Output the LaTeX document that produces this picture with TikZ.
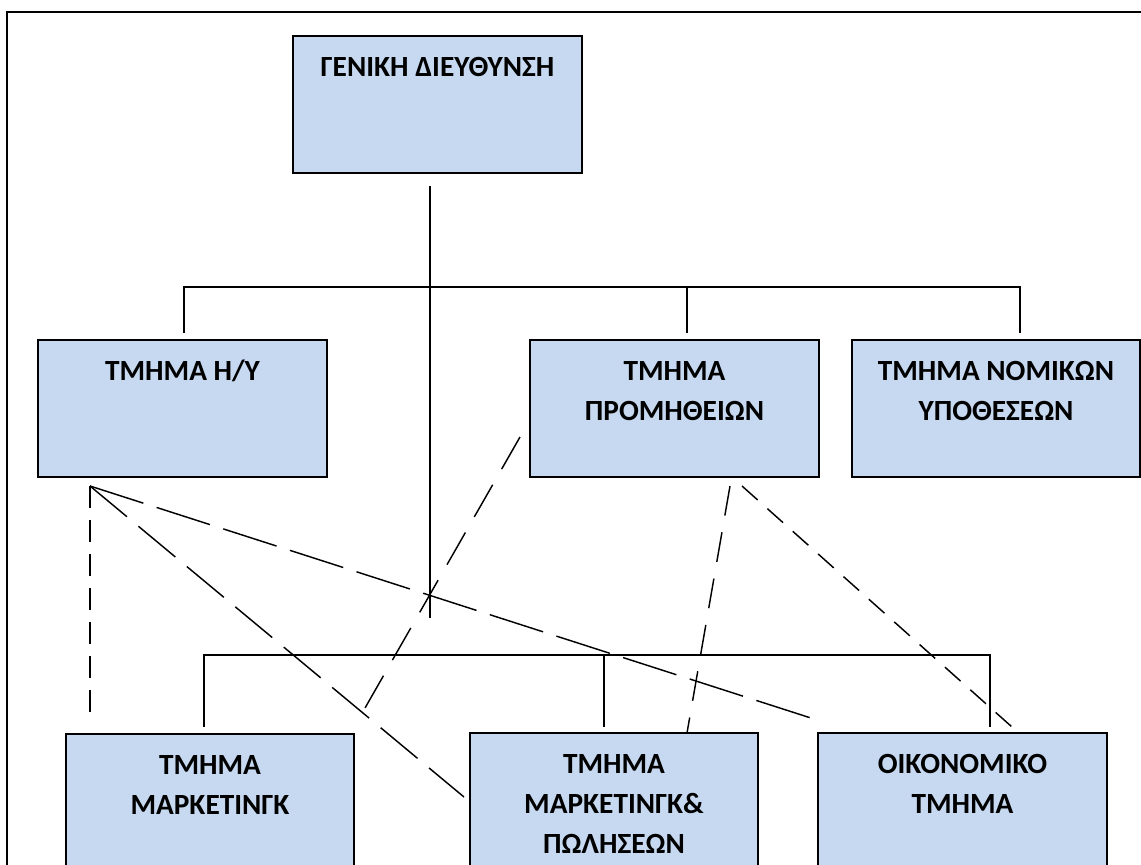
\documentclass[tikz,border=0pt]{standalone}
\usepackage{fontspec}
\setmainfont{Carlito}
\definecolor{boxfill}{RGB}{198,217,240}
\begin{document}
\begin{tikzpicture}[x=1pt,y=-1pt,
  deptbox/.style={draw=black, line width=1.5pt, fill=boxfill, inner sep=0pt,
    outer sep=0pt, anchor=north west, minimum width=289pt, minimum height=137pt},
  depttext/.style={anchor=north, inner sep=0pt, align=center,
    font=\fontsize{29.3}{40}\selectfont\bfseries},
  link/.style={draw=black, line width=1.45pt},
  dashvert/.style={link, dash pattern=on 22pt off 12pt},
  dashlong/.style={link, dash pattern=on 56pt off 14pt},
  dashdiag/.style={link, dash pattern=on 48pt off 15pt},
  dashmid/.style={link, dash pattern=on 37pt off 18pt},
  dashsteep/.style={link, dash pattern=on 30pt off 17pt},
  dashshort/.style={link, dash pattern=on 21pt off 13pt}]

\useasboundingbox (0,0) rectangle (1141,865);
\clip (0,0) rectangle (1141,865);
\fill[white] (0,0) rectangle (1141,865);

% outer frame
\draw[line width=1.7pt] (7,12) rectangle (1180,920);

% departments
\node[deptbox] (gen)   at (293,36)  {};
\node[deptbox] (hy)    at (38,340)  {};
\node[deptbox] (prom)  at (530,340) {};
\node[deptbox, minimum width=288pt] (nom) at (852,340) {};
\node[deptbox, minimum width=288pt] (mark) at (66,734) {};
\node[deptbox, minimum width=288pt] (markp) at (470,733) {};
\node[deptbox] (oik)   at (818,733) {};

% labels
\newcommand{\firstline}{\rule{0pt}{24pt}}
\node[depttext] (gen-t)   at ([yshift=-16pt]gen.north)   {\firstline ΓΕΝΙΚΗ ΔΙΕΥΘΥΝΣΗ};
\node[depttext] (hy-t)    at ([yshift=-16pt]hy.north)    {\firstline ΤΜΗΜΑ Η/Υ};
\node[depttext] (prom-t)  at ([yshift=-16pt]prom.north)  {\firstline ΤΜΗΜΑ\\ΠΡΟΜΗΘΕΙΩΝ};
\node[depttext] (nom-t)   at ([yshift=-16pt]nom.north)   {\firstline ΤΜΗΜΑ ΝΟΜΙΚΩΝ\\ΥΠΟΘΕΣΕΩΝ};
\node[depttext] (mark-t)  at ([yshift=-16pt]mark.north)  {\firstline ΤΜΗΜΑ\\ΜΑΡΚΕΤΙΝΓΚ};
\node[depttext] (markp-t) at ([yshift=-16pt]markp.north) {\firstline ΤΜΗΜΑ\\ΜΑΡΚΕΤΙΝΓΚ\&\\ΠΩΛΗΣΕΩΝ};
\node[depttext] (oik-t)   at ([yshift=-16pt]oik.north)   {\firstline ΟΙΚΟΝΟΜΙΚΟ\\ΤΜΗΜΑ};

% hierarchy lines
\coordinate (trunkTop) at (430,186);
\coordinate (trunkBot) at (430,618);
\coordinate (busA1) at (184,287);
\coordinate (busA2) at (687,287);
\coordinate (busA3) at (1020,287);
\coordinate (busB1) at (204,655);
\coordinate (busB2) at (604,655);
\coordinate (busB3) at (990,655);

\draw[link] (trunkTop) -- (trunkBot);
\draw[link] (busA1 |- hy.north) ++(0,-7) -- (busA1) -- (busA3) -- ++(0,46);
\draw[link] (busA2) -- ++(0,46);
\draw[link] (busB1) ++(0,72) -- (busB1) -- (busB3) -- ++(0,72);
\draw[link] (busB2) -- ++(0,72);

% informal (dashed) relations
\coordinate (hyOut)   at (90,486);
\coordinate (promIn)  at (520,437);
\coordinate (promOutA) at (730,486);
\coordinate (promOutB) at (742,486);
\coordinate (markIn)  at (90,712);
\coordinate (markpIn) at (464,797);
\coordinate (oikInA)  at (814,719);
\coordinate (markOut) at (357,722);
\coordinate (markpTop) at (687,733);
\coordinate (oikInB)  at (1012,727);

\draw[dashvert]  (hyOut) -- (markIn);
\draw[dashdiag]  (hyOut) -- (markpIn);
\draw[dashlong]  (hyOut) -- (oikInA);
\draw[dashmid]   (promIn) -- (markOut);
\draw[dashsteep] (promOutA) -- (markpTop);
\draw[dashshort] (promOutB) -- (oikInB);
\end{tikzpicture}
\end{document}
